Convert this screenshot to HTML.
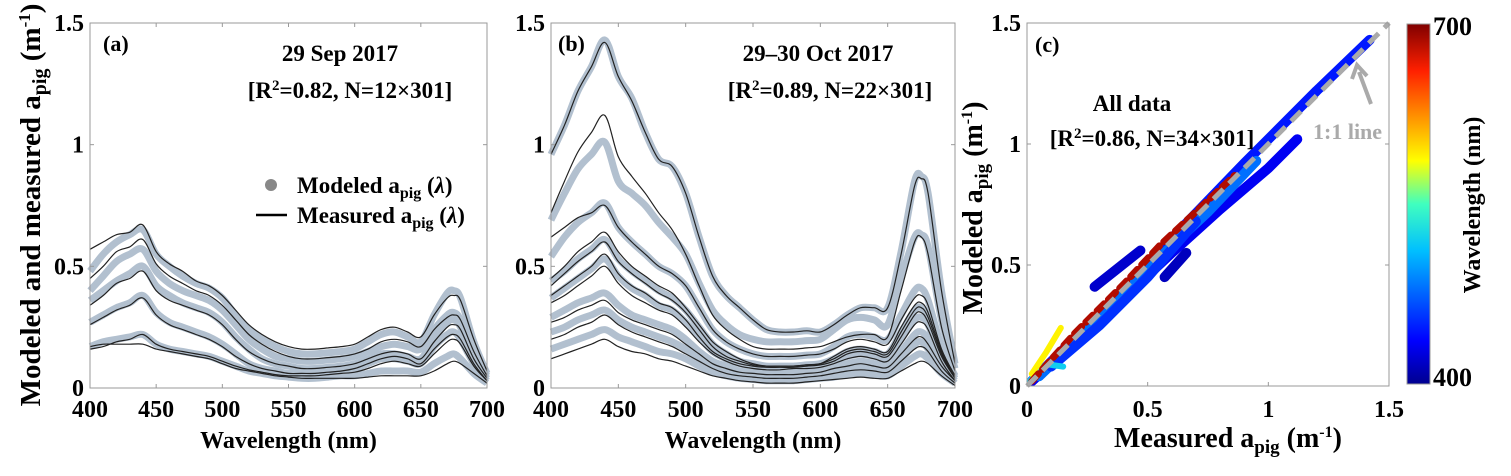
<!DOCTYPE html>
<html><head><meta charset="utf-8"><style>
body{margin:0;background:#fff;width:1511px;height:471px;overflow:hidden}
svg{font-family:"Liberation Serif",serif;font-weight:bold}
</style></head><body>
<svg id="fig" width="1511" height="471" viewBox="0 0 1511 471">
<defs><linearGradient id="jet" x1="0" y1="1" x2="0" y2="0">
<stop offset="0" stop-color="#00008f"/><stop offset="0.12" stop-color="#0000ff"/><stop offset="0.37" stop-color="#00bfff"/><stop offset="0.5" stop-color="#40ffbf"/><stop offset="0.62" stop-color="#ffff00"/><stop offset="0.87" stop-color="#ff2000"/><stop offset="1" stop-color="#800000"/></linearGradient></defs>
</svg>
<script>
const wl=[400,410,420,430,440,450,460,470,480,490,500,510,520,530,540,550,560,570,580,590,600,610,620,630,640,650,660,670,675,680,690,700];
const measA=[
[0.57,0.60,0.63,0.64,0.67,0.56,0.51,0.48,0.44,0.42,0.38,0.32,0.26,0.22,0.19,0.17,0.16,0.16,0.165,0.17,0.18,0.21,0.24,0.25,0.23,0.21,0.30,0.37,0.38,0.36,0.20,0.07],
[0.45,0.50,0.56,0.58,0.61,0.51,0.46,0.43,0.40,0.38,0.34,0.28,0.22,0.18,0.15,0.13,0.12,0.12,0.125,0.13,0.14,0.16,0.19,0.20,0.19,0.17,0.24,0.29,0.30,0.28,0.15,0.05],
[0.34,0.38,0.43,0.45,0.48,0.40,0.36,0.34,0.32,0.30,0.26,0.20,0.15,0.12,0.10,0.09,0.08,0.08,0.085,0.09,0.10,0.12,0.14,0.15,0.14,0.12,0.19,0.25,0.26,0.24,0.12,0.04],
[0.26,0.29,0.32,0.34,0.37,0.30,0.26,0.24,0.22,0.20,0.17,0.13,0.10,0.08,0.07,0.06,0.06,0.06,0.065,0.07,0.08,0.10,0.12,0.13,0.12,0.10,0.16,0.21,0.22,0.20,0.10,0.03],
[0.17,0.18,0.18,0.18,0.18,0.16,0.15,0.14,0.13,0.12,0.10,0.08,0.07,0.06,0.05,0.045,0.04,0.04,0.04,0.04,0.04,0.045,0.05,0.05,0.05,0.05,0.07,0.10,0.11,0.10,0.06,0.02],
[0.16,0.17,0.19,0.20,0.22,0.18,0.16,0.15,0.14,0.13,0.11,0.09,0.075,0.065,0.055,0.05,0.05,0.05,0.055,0.06,0.065,0.08,0.10,0.11,0.10,0.09,0.14,0.19,0.20,0.18,0.09,0.03]];
const modA=[
[0.48,0.55,0.60,0.63,0.65,0.55,0.50,0.46,0.43,0.41,0.37,0.30,0.24,0.20,0.17,0.15,0.14,0.14,0.145,0.15,0.16,0.19,0.22,0.23,0.21,0.19,0.30,0.39,0.40,0.37,0.19,0.06],
[0.40,0.46,0.52,0.55,0.57,0.48,0.43,0.40,0.38,0.36,0.32,0.26,0.20,0.16,0.13,0.12,0.11,0.11,0.115,0.12,0.13,0.15,0.17,0.18,0.17,0.16,0.24,0.30,0.31,0.28,0.14,0.05],
[0.36,0.40,0.44,0.47,0.50,0.42,0.38,0.35,0.33,0.31,0.27,0.21,0.16,0.12,0.10,0.09,0.08,0.08,0.085,0.09,0.10,0.12,0.14,0.14,0.13,0.12,0.20,0.27,0.28,0.25,0.12,0.04],
[0.27,0.30,0.33,0.35,0.38,0.31,0.27,0.25,0.23,0.21,0.18,0.14,0.10,0.08,0.07,0.06,0.06,0.06,0.065,0.07,0.08,0.10,0.12,0.12,0.11,0.10,0.17,0.22,0.23,0.20,0.10,0.03],
[0.17,0.19,0.20,0.21,0.22,0.18,0.16,0.15,0.14,0.13,0.11,0.09,0.07,0.06,0.05,0.045,0.04,0.04,0.045,0.05,0.05,0.06,0.07,0.07,0.07,0.065,0.10,0.13,0.14,0.12,0.06,0.02]];
const measB=[
[0.96,1.08,1.22,1.32,1.42,1.28,1.18,1.05,0.94,0.91,0.80,0.62,0.46,0.38,0.33,0.28,0.24,0.23,0.23,0.235,0.23,0.26,0.30,0.33,0.33,0.33,0.55,0.83,0.86,0.80,0.40,0.10],
[0.72,0.85,0.97,1.05,1.12,0.95,0.87,0.80,0.72,0.65,0.55,0.42,0.30,0.24,0.20,0.17,0.16,0.16,0.16,0.165,0.17,0.19,0.21,0.22,0.22,0.21,0.40,0.60,0.62,0.55,0.25,0.07],
[0.62,0.66,0.70,0.72,0.75,0.66,0.60,0.55,0.50,0.47,0.42,0.33,0.24,0.19,0.16,0.14,0.13,0.13,0.13,0.135,0.14,0.16,0.19,0.20,0.19,0.18,0.28,0.37,0.38,0.34,0.16,0.05],
[0.45,0.50,0.56,0.60,0.64,0.56,0.50,0.46,0.42,0.39,0.33,0.26,0.19,0.15,0.12,0.10,0.09,0.09,0.09,0.095,0.10,0.13,0.16,0.17,0.16,0.15,0.25,0.34,0.35,0.31,0.15,0.04],
[0.42,0.47,0.52,0.56,0.60,0.52,0.47,0.43,0.39,0.36,0.31,0.24,0.17,0.13,0.11,0.095,0.09,0.09,0.09,0.095,0.10,0.12,0.15,0.16,0.15,0.14,0.23,0.32,0.33,0.29,0.14,0.04],
[0.38,0.42,0.46,0.50,0.55,0.47,0.42,0.39,0.35,0.33,0.28,0.21,0.15,0.12,0.10,0.09,0.085,0.085,0.085,0.09,0.095,0.11,0.14,0.15,0.14,0.13,0.21,0.30,0.31,0.27,0.13,0.04],
[0.35,0.38,0.42,0.46,0.50,0.43,0.38,0.35,0.32,0.30,0.25,0.19,0.14,0.11,0.09,0.08,0.075,0.075,0.08,0.08,0.085,0.10,0.12,0.13,0.12,0.11,0.18,0.26,0.27,0.24,0.11,0.03],
[0.27,0.29,0.32,0.34,0.36,0.31,0.28,0.26,0.24,0.22,0.18,0.14,0.10,0.08,0.065,0.06,0.055,0.055,0.055,0.06,0.065,0.08,0.09,0.10,0.09,0.085,0.14,0.20,0.21,0.18,0.09,0.03],
[0.20,0.22,0.25,0.27,0.30,0.26,0.23,0.21,0.19,0.17,0.14,0.11,0.08,0.06,0.05,0.045,0.04,0.04,0.04,0.045,0.05,0.06,0.07,0.075,0.07,0.065,0.11,0.16,0.17,0.15,0.07,0.02],
[0.12,0.14,0.16,0.18,0.20,0.17,0.15,0.14,0.12,0.11,0.09,0.07,0.05,0.04,0.03,0.025,0.02,0.02,0.02,0.025,0.03,0.035,0.04,0.045,0.04,0.04,0.07,0.10,0.11,0.10,0.05,0.01]];
const modB=[
[0.96,1.08,1.22,1.32,1.43,1.28,1.19,1.05,0.94,0.91,0.80,0.62,0.46,0.38,0.33,0.28,0.24,0.23,0.23,0.235,0.23,0.26,0.30,0.33,0.33,0.33,0.56,0.85,0.87,0.80,0.40,0.10],
[0.69,0.80,0.90,0.96,1.01,0.85,0.80,0.75,0.68,0.62,0.55,0.43,0.32,0.26,0.22,0.20,0.19,0.19,0.19,0.195,0.20,0.24,0.28,0.29,0.28,0.26,0.45,0.62,0.63,0.58,0.28,0.08],
[0.54,0.62,0.68,0.72,0.76,0.66,0.60,0.55,0.50,0.47,0.42,0.33,0.24,0.19,0.16,0.14,0.13,0.13,0.13,0.135,0.14,0.17,0.21,0.22,0.21,0.20,0.30,0.40,0.41,0.36,0.17,0.05],
[0.44,0.48,0.53,0.57,0.61,0.53,0.48,0.44,0.40,0.37,0.32,0.25,0.18,0.14,0.11,0.10,0.09,0.09,0.09,0.095,0.10,0.12,0.15,0.16,0.15,0.14,0.23,0.32,0.33,0.29,0.14,0.04],
[0.37,0.41,0.45,0.49,0.53,0.46,0.41,0.38,0.34,0.32,0.27,0.21,0.15,0.12,0.10,0.09,0.085,0.085,0.085,0.09,0.095,0.11,0.13,0.14,0.13,0.12,0.20,0.28,0.29,0.26,0.12,0.04],
[0.29,0.32,0.35,0.37,0.39,0.34,0.30,0.28,0.26,0.24,0.20,0.15,0.11,0.09,0.07,0.065,0.06,0.06,0.06,0.065,0.07,0.085,0.10,0.11,0.10,0.09,0.15,0.22,0.23,0.20,0.10,0.03],
[0.23,0.25,0.28,0.30,0.32,0.28,0.25,0.23,0.21,0.19,0.16,0.12,0.09,0.07,0.055,0.05,0.045,0.045,0.045,0.05,0.055,0.07,0.08,0.085,0.08,0.075,0.12,0.18,0.19,0.16,0.08,0.02],
[0.16,0.18,0.20,0.22,0.24,0.21,0.19,0.17,0.15,0.14,0.12,0.09,0.065,0.05,0.04,0.035,0.03,0.03,0.03,0.035,0.04,0.045,0.055,0.06,0.055,0.05,0.09,0.13,0.14,0.12,0.06,0.02]];
// panel c streaks: measured x, modeled y, wavelength
const scX=[[0.02,0.3,0.6,0.9,1.2,1.42],[0.02,0.3,0.6,0.8,1.0,1.12],[0.05,0.3,0.6,0.75,0.95],[0.1,0.3,0.5,0.7],[0.28,0.47],[0.57,0.66],[0.01,0.08,0.15],[0.02,0.08,0.14],[0.02,0.2,0.4,0.55,0.7,0.86]];
const scY=[[0.02,0.3,0.61,0.92,1.22,1.43],[0.02,0.27,0.55,0.73,0.9,1.02],[0.04,0.28,0.58,0.72,0.93],[0.08,0.25,0.45,0.68],[0.41,0.56],[0.45,0.55],[0.02,0.09,0.08],[0.05,0.14,0.24],[0.02,0.22,0.42,0.58,0.72,0.87]];
const scWL=[445,432,480,455,420,415,520,590,685];
const yTicks=[0,0.5,1,1.5], yTickLbl=["0","0.5","1","1.5"];
const xTicks=[400,450,500,550,600,650,700];

const S=document.getElementById('fig'),NS='http://www.w3.org/2000/svg';
function mk(t,a,p){const e=document.createElementNS(NS,t);for(const k in a)e.setAttribute(k,a[k]);(p||S).appendChild(e);return e;}
function txt(x,y,s,sz,anc){const e=mk('text',{x:x,y:y,'font-size':sz,'text-anchor':anc||'start'});e.innerHTML=s;return e;}
const Y0=388,Y1=23; const ys=v=>Y0-(v/1.5)*(Y0-Y1);
const JET=[[0,[0,0,143]],[0.12,[0,0,255]],[0.37,[0,191,255]],[0.5,[64,255,191]],[0.62,[255,255,0]],[0.87,[255,32,0]],[1,[128,0,0]]];
function jet(w){const t=(w-400)/300;
 for(let i=1;i<JET.length;i++){if(t<=JET[i][0]){const f=(t-JET[i-1][0])/(JET[i][0]-JET[i-1][0]);const a=JET[i-1][1],b=JET[i][1];
  return 'rgb('+a.map((v,k)=>Math.round(v+f*(b[k]-v))).join(',')+')';}}return '#800000';}
function smooth(P){let d='M'+P[0][0].toFixed(1)+','+P[0][1].toFixed(1);
 for(let i=0;i<P.length-1;i++){const p0=P[Math.max(0,i-1)],p1=P[i],p2=P[i+1],p3=P[Math.min(P.length-1,i+2)];
  const c1=[p1[0]+(p2[0]-p0[0])/6,p1[1]+(p2[1]-p0[1])/6],c2=[p2[0]-(p3[0]-p1[0])/6,p2[1]-(p3[1]-p1[1])/6];
  d+='C'+c1.map(v=>v.toFixed(1))+' '+c2.map(v=>v.toFixed(1))+' '+p2[0].toFixed(1)+','+p2[1].toFixed(1);}return d;}
function spectral(L,R,meas,mod,nm){
 const xs=w=>L+(w-400)/300*(R-L);
 const g=mk('g',{});
 mod.forEach(c=>{const p=mk('path',{d:smooth(c.map((v,j)=>[xs(wl[j]),ys(v)])),fill:'none',stroke:'#b2c0cf','stroke-width':7,'stroke-linejoin':'round'},g);
  });
 meas.forEach(c=>{const p=mk('path',{d:smooth(c.map((v,j)=>[xs(wl[j]),ys(v)])),fill:'none',stroke:'#222','stroke-width':1.2},g);
  });
 mk('rect',{x:L,y:Y1,width:R-L,height:Y0-Y1,fill:'none',stroke:'#999','stroke-width':1},g);
 xTicks.forEach(t=>{mk('line',{x1:xs(t),x2:xs(t),y1:Y0,y2:Y0-4,stroke:'#999'},g);mk('line',{x1:xs(t),x2:xs(t),y1:Y1,y2:Y1+4,stroke:'#999'},g);
  const e=txt(xs(t),417,t,24,'middle');});
 yTicks.forEach((t,i)=>{mk('line',{x1:L,x2:L+4,y1:ys(t),y2:ys(t),stroke:'#999'},g);mk('line',{x1:R,x2:R-4,y1:ys(t),y2:ys(t),stroke:'#999'},g);
  const e=txt(L-6,ys(t)+8,yTickLbl[i],24,'end');});
 const xt=txt((L+R)/2,448,'Wavelength (nm)',24,'middle');
}
spectral(90,487,measA,modA,'panel-a');
spectral(551,955,measB,modB,'panel-b');
(function(){const L=1027,R=1389,B=386,T=23;const xs=v=>L+v/1.5*(R-L),yc=v=>B-v/1.5*(B-T);
 const g=mk('g',{});
 scX.forEach((xa,i)=>{const p=mk('path',{d:xa.map((v,j)=>(j?'L':'M')+xs(v).toFixed(1)+','+yc(scY[i][j]).toFixed(1)).join(''),fill:'none',stroke:jet(scWL[i]),'stroke-width':i==8?7:(i>=6?6:10),'stroke-linecap':'round','stroke-linejoin':'round'},g);
  if(i==8)p.setAttribute('stroke-dasharray','10,6');
  });
 const one=mk('line',{x1:xs(0),y1:yc(0),x2:xs(1.5),y2:yc(1.5),stroke:'#aaa','stroke-width':5,'stroke-dasharray':'14,8'},g);
 
 mk('rect',{x:L,y:T,width:R-L,height:B-T,fill:'none',stroke:'#999'},g);
 const xl=["0","0.5","1","1.5"];[0,0.5,1,1.5].forEach((t,i)=>{mk('line',{x1:xs(t),x2:xs(t),y1:B,y2:B-4,stroke:'#999'},g);mk('line',{x1:L,x2:L+4,y1:yc(t),y2:yc(t),stroke:'#999'},g);mk('line',{x1:R,x2:R-4,y1:yc(t),y2:yc(t),stroke:'#999'},g);
  const a=txt(xs(t),417,xl[i],24,'middle');
  const b=txt(L-6,yc(t)+8,xl[i],24,'end');});
 const ar=mk('path',{d:'M1371,104 L1359,72 M1352,79 L1357,65 L1367,76',stroke:'#aaa','stroke-width':4,fill:'none'},g);
 
})();
</script>
<svg width="1511" height="471" style="position:absolute;left:0;top:0;font-family:'Liberation Serif',serif;font-weight:bold">
<text x="40" y="205" font-size="29" text-anchor="middle" transform="rotate(-90 40 205)">Modeled and measured a<tspan font-size="20" dy="6">pig</tspan><tspan dy="-6"> (m</tspan><tspan font-size="17" dy="-10">-1</tspan><tspan dy="10">)</tspan></text>
<text x="103" y="51" font-size="22">(a)</text>
<text x="340" y="61" font-size="23" text-anchor="middle">29 Sep 2017</text>
<text x="350" y="98" font-size="23" text-anchor="middle">[R<tspan font-size="15" dy="-8">2</tspan><tspan dy="8">=0.82, N=12×301]</tspan></text>
<circle cx="271" cy="185" r="6" fill="#888"/>
<text x="297" y="193" font-size="23">Modeled a<tspan font-size="16" dy="5">pig</tspan><tspan dy="-5"> (</tspan><tspan font-style="italic">λ</tspan>)</text>
<line x1="256" y1="215" x2="287" y2="215" stroke="#000" stroke-width="2.5"/>
<text x="297" y="223" font-size="23">Measured a<tspan font-size="16" dy="5">pig</tspan><tspan dy="-5"> (</tspan><tspan font-style="italic">λ</tspan>)</text>
<text x="558" y="51" font-size="22">(b)</text>
<text x="818" y="61" font-size="23" text-anchor="middle">29–30 Oct 2017</text>
<text x="830" y="98" font-size="23" text-anchor="middle">[R<tspan font-size="15" dy="-8">2</tspan><tspan dy="8">=0.89, N=22×301]</tspan></text>
<text x="1035" y="52" font-size="22">(c)</text>
<text x="1132" y="111" font-size="23" text-anchor="middle">All data</text>
<text x="1152" y="146" font-size="23" text-anchor="middle">[R<tspan font-size="15" dy="-8">2</tspan><tspan dy="8">=0.86, N=34×301]</tspan></text>
<text x="1313" y="139" font-size="22" fill="#aaa">1:1 line</text>
<text x="982" y="208" font-size="28" text-anchor="middle" transform="rotate(-90 982 208)">Modeled a<tspan font-size="19" dy="6">pig</tspan><tspan dy="-6"> (m</tspan><tspan font-size="16" dy="-10">-1</tspan><tspan dy="10">)</tspan></text>
<text x="1228" y="447" font-size="28" text-anchor="middle">Measured a<tspan font-size="19" dy="6">pig</tspan><tspan dy="-6"> (m</tspan><tspan font-size="16" dy="-10">-1</tspan><tspan dy="10">)</tspan></text>
<rect x="1407" y="24" width="23" height="360" fill="url(#jet)" stroke="#999"/>
<text x="1433" y="35" font-size="26">700</text>
<text x="1433" y="386" font-size="26">400</text>
<text x="1480" y="205" font-size="24" text-anchor="middle" transform="rotate(-90 1480 205)">Wavelength (nm)</text>
</svg>
</body></html>
